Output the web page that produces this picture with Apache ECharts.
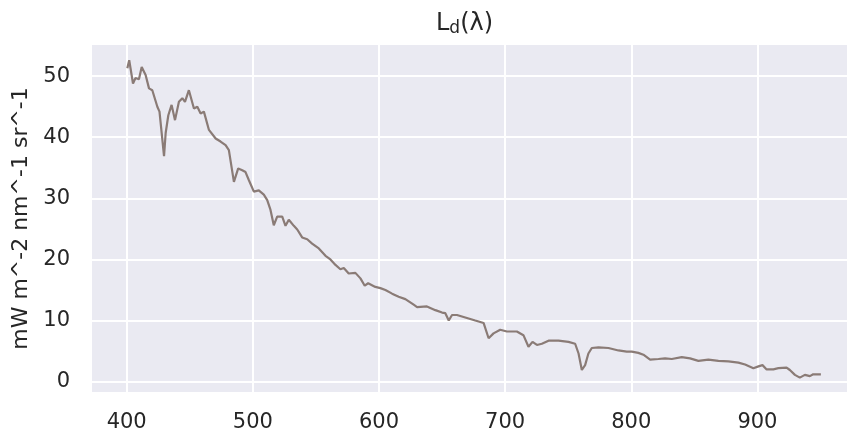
<!DOCTYPE html>
<html><head><meta charset="utf-8">
<script src="https://cdn.jsdelivr.net/npm/echarts@6/dist/echarts.min.js"></script>
<style>html,body{margin:0;padding:0;background:#fff}#c{width:847px;height:439px}</style>
</head><body><div id="c"></div>
<script>
const wavelength = [400.5,402,405,407,409.7,411.9,415,417.7,420.3,424.3,426,429.6,430.9,433,435.6,438.3,441.4,444.1,446.2,449.3,453.3,456,458.6,461.2,465.2,470.5,474.4,478.4,481,485,488.4,491.6,494.2,496.8,500.8,504.7,508.7,511.4,514,516.6,519.3,523.3,525.9,528.5,532.5,535.2,539.1,543.1,547,552.3,557.6,561.5,565.5,569.4,572.1,576,581.3,585.3,588.7,591.4,597.1,601.1,605.1,610.4,615.6,620.9,627.5,630.2,638,644.7,650,652.6,655.3,657.9,661.8,668.4,676.3,682.9,686.9,690.8,696.1,701.4,709.3,714.5,718.5,721.7,725.2,729.1,734.4,742.3,750.2,755.5,758.2,760.8,763.4,766,768.7,774,781.9,789.8,796.4,800.4,805.6,809.6,814.9,821.5,826.8,832.1,840,846.6,853.2,861.1,869.1,877,884.9,890.2,896.8,900.8,904,907.3,912.6,916.6,923.1,925.7,929.7,933.6,937.6,941.6,944.2,950.3];
const radiance = [51.3,52.6,48.8,49.7,49.5,51.5,50.2,48,47.7,45,44.2,36.9,40.7,43.6,45.3,42.8,45.8,46.4,45.8,47.7,44.7,45,43.9,44.2,41.2,39.8,39.3,38.7,37.9,32.7,34.9,34.6,34.3,33.0,31.1,31.3,30.6,29.7,28.1,25.6,27.0,27.0,25.5,26.5,25.5,24.9,23.6,23.3,22.6,21.8,20.6,20.0,19.1,18.4,18.6,17.7,17.8,16.9,15.7,16.1,15.5,15.3,15.0,14.4,13.9,13.5,12.6,12.2,12.3,11.7,11.3,11.2,10.0,10.9,10.9,10.5,10.0,9.6,7.1,7.9,8.5,8.2,8.2,7.6,5.7,6.5,6.0,6.2,6.7,6.7,6.5,6.2,4.6,1.9,2.7,4.6,5.5,5.6,5.5,5.1,4.9,4.9,4.7,4.4,3.6,3.7,3.8,3.7,4.0,3.8,3.4,3.6,3.4,3.3,3.1,2.8,2.2,2.5,2.7,2.0,2.0,2.2,2.3,1.9,1.1,0.65,1.1,0.9,1.2,1.2];
const xTicks = [400,500,600,700,800,900];
const yTicks = [0,10,20,30,40,50];
const titleMain = 'L';
const titleSub = 'd';
const titleTail = '(λ)';
const yName = 'mW m^-2 nm^-1 sr^-1';

const chart = echarts.init(document.getElementById('c'), null, {renderer:'canvas'});
const txt = '#262626';
chart.setOption({
  animation:false,
  backgroundColor:'#ffffff',
  title:{
    text:'{a|'+titleMain+'}{s|'+titleSub+'}{a|'+titleTail+'}',
    left:431, top:5,
    textStyle:{fontWeight:'normal', rich:{
      a:{fontFamily:'DejaVu Sans',fontSize:24,fontWeight:'normal',color:txt},
      s:{fontFamily:'DejaVu Sans',fontSize:17,fontWeight:'normal',color:txt,padding:[10,0,0,0]}
    }}
  },
  grid:{left:92,right:0,top:45,bottom:47,show:true,backgroundColor:'#EAEAF2',borderWidth:0},
  xAxis:{
    type:'value', min:372.5, max:971,
    axisLine:{show:false},
    axisTick:{show:false, customValues:xTicks},
    axisLabel:{customValues:xTicks, color:txt, fontFamily:'DejaVu Sans', fontSize:21, margin:20},
    splitLine:{show:true, lineStyle:{color:'#ffffff', width:2}}
  },
  yAxis:{
    type:'value', min:-1.7, max:55.1,
    name:yName, nameLocation:'middle', nameGap:59,
    nameTextStyle:{color:txt, fontFamily:'DejaVu Sans', fontSize:22},
    axisLine:{show:false},
    axisTick:{show:false, customValues:yTicks},
    axisLabel:{customValues:yTicks, color:txt, fontFamily:'DejaVu Sans', fontSize:21, margin:22},
    splitLine:{show:true, lineStyle:{color:'#ffffff', width:2}}
  },
  series:[{
    type:'line', showSymbol:false, symbol:'none',
    data: wavelength.map((w,i)=>[w, radiance[i]]),
    lineStyle:{color:'#8a7b76', width:2.2},
    clip:true
  }]
});
</script></body></html>
